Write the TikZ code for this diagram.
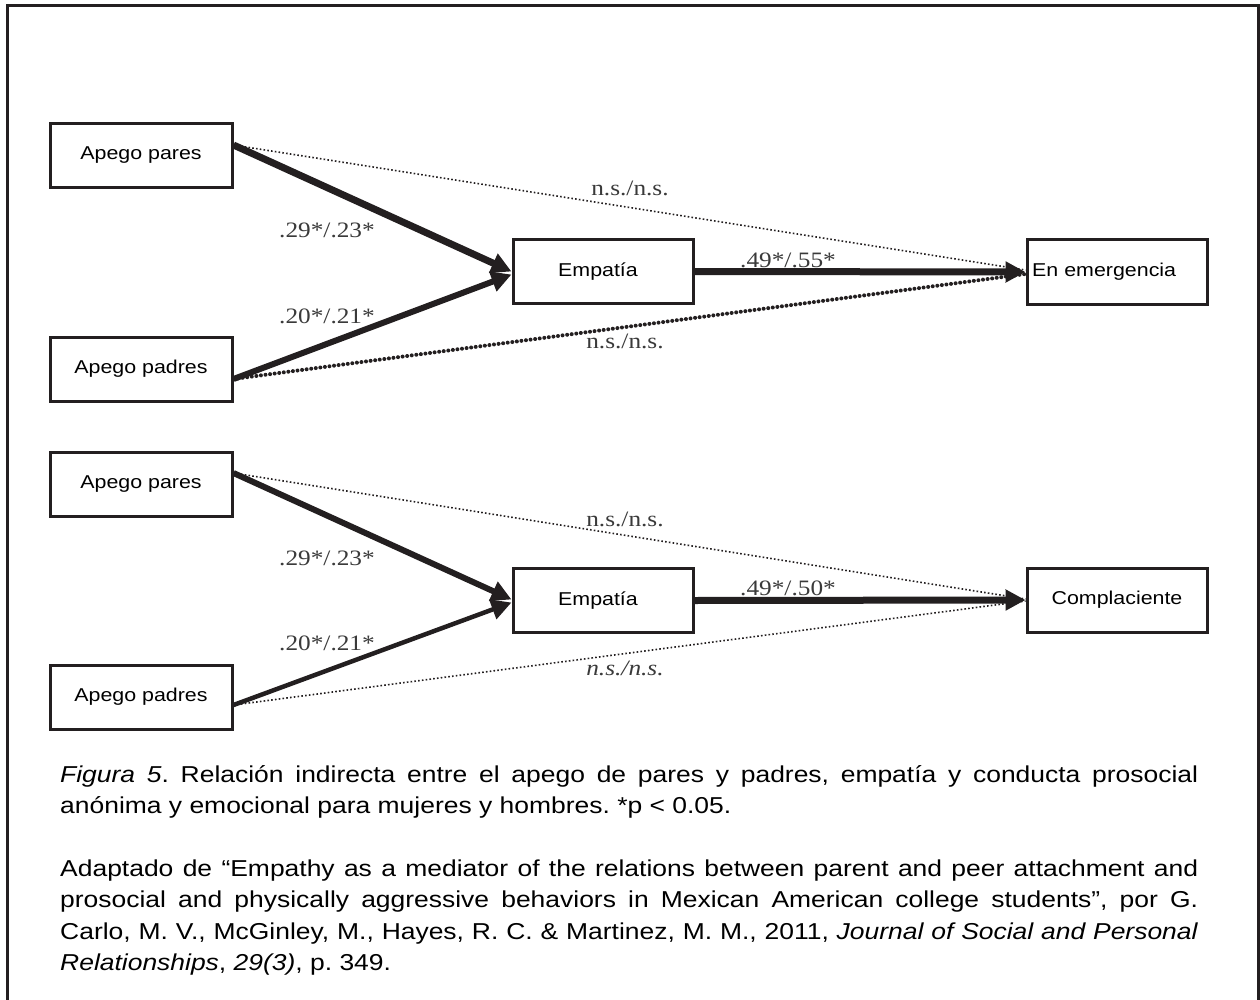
\documentclass[tikz,border=0pt]{standalone}
\usepackage{fontspec}
\setmainfont{Liberation Sans}[FakeStretch=1.15]
\newfontfamily\coeffont{Liberation Serif}[FakeStretch=1.15]
\usetikzlibrary{arrows.meta}
\definecolor{ink}{HTML}{231F20}
\definecolor{coefgray}{HTML}{3A3A3A}
\frenchspacing

\begin{document}
\begin{tikzpicture}[x=1pt,y=-1pt,
  box/.style={draw=ink, line width=3pt, fill=white, minimum width=182pt,
    minimum height=64pt, inner sep=0pt, font=\fontsize{18.6}{22}\selectfont},
  strong/.style={draw=ink, line width=#1, -{Triangle[length=20pt,width=20pt]}},
  faint/.style={draw=ink, line width=1.6pt, dash pattern=on 1.6pt off 2.2pt},
  beads/.style={draw=ink, line width=4pt, line cap=round, dash pattern=on 0.01pt off 4.6pt},
  coef/.style={inner sep=0pt, text=coefgray, font=\coeffont\fontsize{22}{26}\selectfont},
  capline/.style={anchor=base west, inner sep=0pt, font=\fontsize{23}{31.5}\selectfont}]
\useasboundingbox (0,0) rectangle (1260,1000);

% outer frame, open at the bottom
\draw[ink, line width=3pt] (7,1000) -- (7,6) -- (1258,6) -- (1258,1000);

% ---- upper model: emergency prosocial behaviour ----
\node[box] (ap1)  at (141,155.5) {Apego pares};
\node[box] (apd1) at (141,369)   {Apego padres};
\node[box, minimum width=180pt] (e1) at (603,271.5) {\hspace*{-10pt}Empatía};
\node[box, minimum width=180pt, text width=170pt, align=left] (em) at (1117,272) {En emergencia};

\draw[faint] ([yshift=10.5pt]ap1.east) -- ([yshift=2pt]em.west);
\draw[beads] ([yshift=-10pt]apd1.east) -- ([yshift=-2pt]em.west);
\draw[strong=7pt] ([yshift=10.5pt]ap1.east) -- (e1.west);
\draw[strong=6pt] ([yshift=-10pt]apd1.east) -- ([yshift=-3pt]e1.west);
\draw[strong=7pt] (e1.east) -- (em.west);

\node[coef] (c11) at (327,230) {.29*/.23*};
\node[coef] (c12) at (327,316) {.20*/.21*};
\node[coef] (c13) at (630,188) {n.s./n.s.};
\node[coef] (c14) at (788,260) {.49*/.55*};
\node[coef] (c15) at (625,341) {n.s./n.s.};

% ---- lower model: compliant prosocial behaviour ----
\node[box] (ap2)  at (141,484) {Apego pares};
\node[box] (apd2) at (141,697) {Apego padres};
\node[box, minimum width=180pt] (e2) at (603,600.5) {\hspace*{-10pt}Empatía};
\node[box, minimum width=180pt] (cp) at (1117,600) {Complaciente};

\draw[faint] ([yshift=11pt]ap2.east) -- ([yshift=1pt]cp.west);
\draw[faint] ([yshift=-8pt]apd2.east) -- ([yshift=-1pt]cp.west);
\draw[strong=6pt] ([yshift=11pt]ap2.east) -- ([yshift=1pt]e2.west);
\draw[strong=4.5pt] ([yshift=-8pt]apd2.east) -- ([yshift=-2pt]e2.west);
\draw[strong=7pt] (e2.east) -- (cp.west);

\node[coef] (c21) at (327,558) {.29*/.23*};
\node[coef] (c22) at (327,643) {.20*/.21*};
\node[coef] (c23) at (625,519) {n.s./n.s.};
\node[coef] (c24) at (788,588) {.49*/.50*};
\node[coef] (c25) at (625,668) {\itshape n.s./n.s.};

% ---- caption ----
\node[capline] (cap1) at (60,782) {\makebox[1138pt][s]{\textit{Figura 5}. Relación indirecta entre el apego de pares y padres, empatía y conducta prosocial}};
\node[capline] (cap2) at (60,813) {anónima y emocional para mujeres y hombres. *p < 0.05.};
\node[capline] (cap3) at (60,876) {\makebox[1138pt][s]{Adaptado de “Empathy as a mediator of the relations between parent and peer attachment and}};
\node[capline] (cap4) at (60,907) {\makebox[1138pt][s]{prosocial and physically aggressive behaviors in Mexican American college students”, por G.}};
\node[capline] (cap5) at (60,939) {\makebox[1138pt][s]{Carlo, M. V., McGinley, M., Hayes, R. C. \& Martinez, M. M., 2011, \textit{Journal of Social and Personal}}};
\node[capline] (cap6) at (60,970) {\textit{Relationships}, \textit{29(3)}, p. 349.};
\end{tikzpicture}
\end{document}
